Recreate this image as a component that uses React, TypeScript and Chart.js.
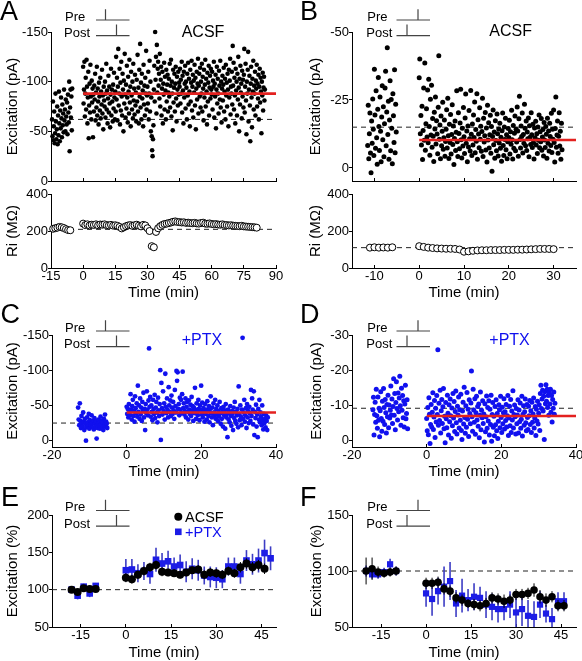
import React, { useEffect, useRef } from 'react';
import { Chart, registerables } from 'chart.js';

Chart.register(...registerables);

const FONT = "'Liberation Sans', Arial, Helvetica, sans-serif";
Chart.defaults.font.family = FONT;
Chart.defaults.color = '#000';

// ---------------- DATA ----------------
// Panel A (ACSF) – excitation amplitude (pA), sweeps every 0.2 min
const A_BASE_START = -14.5;
const A_POST_START = 0;
const A_SWEEP = 0.2;
const A_BASE = [-62,-45,-80,-41,-55,-70,-38,-48,-88,-60,-42,-52,-75,-37,-66,-46,-90,-58,-40,-71,-53,-84,-63,-44,-77,-56,-68,-49,-92,-61,-72,-50,-82,-65,-57,-79,-47,-87,-69,-59,-100,-30,-74,-92,-64,-85,-51,-93];
const A_POST = [
  -115,-78,-92,-120,-65,-88,-104,-72,-122,-95,-58,-84,-110,-43,-76,-98,-69,-117,-85,-62,-101,-79,-93,-44,-87,
  -70,-96,-82,-108,-61,-89,-74,-115,-66,-93,-80,-57,-99,-85,-71,-104,-63,-90,-77,-112,-68,-86,-52,-95,-81,
  -75,-100,-64,-88,-118,-72,-91,-58,-83,-106,-69,-95,-78,-54,-87,-113,-66,-92,-80,-60,-97,-73,-109,-84,-62,
  -90,-70,-125,-82,-104,-61,-95,-133,-76,-88,-113,-57,-99,-71,-120,-85,-66,-108,-92,-50,-101,-78,-128,-87,-64,
  -97,-73,-116,-84,-59,-105,-90,-68,-122,-79,-95,-55,-110,-86,-72,-100,-63,-118,-81,-93,-67,-107,-76,-89,-60,
  -102,-80,-127,-70,-94,-58,-112,-85,-138,-74,-99,-62,-108,-83,-91,-55,-117,-77,-96,-66,-104,-88,-131,-72,-86,
  -95,-78,-110,-62,-88,-121,-70,-100,-50,-84,-45,-31,-25,-42,-56,-92,-116,-80,-150,-102,-125,-68,-137,-89,-113,
  -120,-96,-108,-83,-128,-75,-102,-115,-66,-93,-110,-58,-98,-87,-119,-72,-105,-91,-62,-112,-80,-97,-107,-70,-89,
  -103,-85,-118,-74,-96,-122,-65,-100,-88,-51,-112,-79,-94,-108,-70,-98,-115,-83,-60,-105,-92,-76,-110,-87,-99,
  -95,-113,-78,-102,-88,-120,-69,-106,-91,-58,-110,-84,-98,-116,-73,-100,-94,-62,-108,-86,-119,-77,-103,-90,-55,
  -112,-80,-99,-121,-71,-95,-107,-64,-101,-89,-117,-76,-104,-52,-93,-110,-82,-98,-123,-68,-96,-108,-85,-114,-74,
  -100,-88,-118,-70,-105,-93,-61,-112,-84,-97,-122,-75,-103,-90,-57,-109,-80,-99,-116,-66,-94,-106,-83,-113,-92,
  -87,-110,-72,-101,-95,-120,-64,-98,-85,-107,-53,-92,-115,-78,-103,-88,-68,-111,-96,-82,-121,-74,-100,-59,-93,
  -106,-81,-97,-114,-70,-90,-103,-62,-117,-86,-99,-75,-108,-92,-55,-112,-84,-101,-123,-67,-95,-88,-110,-77,-136,
  -96,-119,-72,-104,-86,-58,-113,-91,-100,-66,-108,-82,-125,-94,-50,-103,-77,-116,-89,-98,-63,-111,-85,-102,-74,
  -107,-133,-69,-95,-118,-81,-47,-100,-88,-112,-130,-60,-92,-106,-76,-40,-98,-115,-84,-54,-103,-90,-121,-72,-96,
  -88,-110,-66,-101,-93,-117,-75,-98,-83,-107,-62,-95,-113,-79,-104,-90,-48,-100,-86,-109,-71,-94,-105,-81,-92,
];
const A_BASELINE_MEAN = -62;
const A_POST_MEAN = -88;
// Panel A input resistance (MΩ), one per minute
const A_RI_BASE_START = -14;
const A_RI_BASE = [212,215,218,222,220,216,210,205,204];
const A_RI_POST = [
  240,232,236,230,234,233,236,231,235,234,
  236,232,230,233,229,231,228,222,214,220,
  226,230,232,228,231,234,229,225,233,230,
  215,200,118,112,195,
  215,226,233,238,240,243,246,250,252,249,
  248,246,247,244,245,243,242,244,241,240,
  243,245,240,239,241,238,236,237,235,234,
  236,233,232,230,231,229,228,227,226,228,
  225,224,223,222,221,220,218,
];
const A_RI_REF = 209;

// Panel B (ACSF) – sweeps every 0.125 min
const B_BASE_START = -11.5;
const B_SWEEP = 0.125;
const B_BASE = [-8.3,-23.1,-3.4,-12.6,-20.2,-5.5,1.8,-17.3,-9.1,-25.4,-14.2,-4.6,-36.3,-19.5,-7.2,-28.4,-11.1,-1.4,-21.6,-33.3,-15.2,-6.4,-26.1,-13.5,-2.3,-18.7,-30.2,-10.4,-22.5,-4.1,-16.3,-29.4,-35.6,-8.2,-20.6,-44.2,-12.3,-24.5,-3.2,-17.6,-32.1,-6.3,-25.2,-14.6,-1.5,-27.3,-19.2,-9.4,-36.1,-5.6,-23.4,-13.2];
const B_POST = [
  -33.2,-40.1,-12.6,-19.3,-8.4,-22.7,-3.1,-13.8,-29.4,-10.2,-38.6,-6.5,-16.3,-21.8,-11.4,-28.7,
  -9.3,-32.6,-15.2,-4.7,-25.3,-12.1,-30.4,-7.6,-18.2,-11.7,-2.4,-20.5,-14.3,-26.1,-8.8,-17.4,
  -12.5,-5.2,-22.3,-41.3,-10.6,-15.8,-3.4,-19.1,-8.2,-13.5,-24.2,-6.9,-11.1,-17.6,-4.3,-9.7,
  -14.2,-21.4,-7.3,-25.6,-11.8,-3.5,-16.1,-9.4,-19.7,-5.1,-12.3,-23.2,-8.6,-15.4,-1.3,-10.8,
  -17.3,-6.4,-13.1,-28.4,-9.6,-4.2,-20.3,-12.7,-7.1,-16.5,-28.9,-10.4,-3.7,-14.6,-8.1,-22.2,
  -11.5,-5.3,-18.4,-27.2,-9.1,-13.6,-2.3,-15.4,-7.7,-21.1,-10.7,-6.2,-28.5,-12.4,-4.6,-16.2,
  -8.4,-19.5,-11.2,-24.3,-5.6,-14.1,-9.8,-27.3,-3.2,-17.7,-12.5,-7.4,-22.1,-10.6,-15.3,-6.1,
  -13.4,-25.6,-4.2,-18.3,-9.5,-11.8,-20.4,-6.6,-14.7,-2.2,-23.1,-10.3,-16.6,-7.3,-12.2,-19.4,
  -5.4,-15.2,1.2,-11.6,-21.3,-8.5,-13.2,-3.6,-17.4,-10.1,-6.3,-19.8,-12.6,-4.4,-14.3,-9.2,
  -16.4,-7.2,-11.3,-2.5,-13.7,-20.2,-8.3,-4.6,-15.1,-10.5,-18.3,-6.7,-12.2,-3.4,-9.6,-14.5,
  -11.2,-17.5,-5.1,-13.3,-8.7,-21.2,-10.4,-3.3,-15.6,-7.2,-12.8,-19.1,-6.3,-14.2,-9.5,-22.4,
  -13.6,-4.3,-18.1,-26.4,-10.5,-7.3,-15.4,-11.6,-20.2,-5.5,-12.3,-9.1,-23.4,-14.6,-8.2,-17.3,
  -6.4,-13.2,-10.7,-18.4,-4.1,-15.5,-11.3,-8.6,-20.3,-12.2,-7.5,-16.1,-9.4,-3.3,-14.7,-11.1,
  -17.2,-8.4,-12.6,-5.3,-15.1,-10.2,-19.5,-7.4,-13.3,-9.6,-18.2,-6.5,-11.4,-14.1,-4.4,-16.7,
  -10.3,-7.5,-15.2,-12.4,-3.6,-18.3,-9.1,-13.6,-6.2,-16.4,-11.6,-8.3,-20.1,-5.7,-14.2,-10.6,
  -21.3,-9.4,-2.2,-14.5,-26.1,-7.6,-12.1,-17.3,-5.4,-11.7,-20.3,-8.1,-13.5,-3.2,-16.4,-6.7,
];
const B_BASELINE_MEAN = -15;
const B_POST_MEAN = -10.3;
const B_RI_BASE_START = -11;
const B_RI_BASE = [110,112,110,111,110,112];
const B_RI_POST = [118,114,110,108,106,105,104,104,103,100,88,90,93,95,96,96,97,97,97,98,98,98,99,99,100,101,102,103,103,103,102];
const B_RI_REF = 110;

// Panel C (+PTX) – sweeps every 0.15 min
const C_BASE_START = -13;
const CD_SWEEP = 0.15;
const C_BASE = [-47,-30,-22,-53,-28,-18,-35,-25,-20,-40,-27,-15,-31,-24,0,-19,-33,-26,-22,-38,-17,-29,-23,-21,-36,-26,-19,-28,-16,-32,-24,-20,-27,-3,-22,-18,-30,-25,-21,-17,-34,-23,-28,-19,-26,-15,-31,-22,-37,-20,-27,-24,-18];
const C_POST = [
  -48,-38,-45,-33,-52,-40,-36,-66,-44,-30,-49,-58,-35,-42,-27,-63,-46,-39,-53,-34,
  -78,-41,-50,-31,-60,-37,-47,-28,-55,-43,-68,-33,-45,-15,-52,-39,-70,-44,-36,-57,
  -131,-48,-62,-34,-50,-41,-29,-58,-45,-38,-65,-32,-47,-55,-40,-26,-61,-43,-35,-52,
  -100,-1,-82,-46,-37,-70,-42,-53,-30,-95,-48,-39,-60,-44,-33,-76,-50,-41,-57,-35,
  -64,-47,-38,-55,-43,-31,-72,-49,-40,-99,-85,-97,-45,-52,-36,-61,-44,-58,-39,-66,
  -98,-46,-53,-37,-42,-60,-33,-48,-55,-41,-30,-57,-44,-38,-51,-35,-62,-43,-49,-28,
  -47,-39,-75,-44,-31,-53,-40,-36,-58,-45,-29,-50,-42,-78,-37,-54,-33,-46,-41,-27,
  -52,-38,-44,-30,-56,-42,-35,-49,-26,-45,-63,-39,-33,-47,-22,-53,-40,-36,-58,-31,
  -45,-37,-50,-28,-42,-34,-55,-39,-24,-46,-31,-41,-20,-48,-36,-43,-17,-52,-33,-38,
  -5,-44,-30,-40,-26,-49,-35,-21,-42,-38,-15,-47,-32,-55,-28,-41,-24,-36,-45,-19,
  -77,-38,-29,-50,-34,-22,-44,-146,-31,-40,-58,-27,-36,-46,-18,-52,-33,-42,-25,-48,
  -39,-28,-72,-35,-60,-44,-23,-70,-8,-41,-32,-51,-20,-37,-5,-45,-30,-58,-26,-40,
  -34,-22,-50,-29,-16,-38,-25,-31,-19,-36,-28,-15,-33,
];
const C_BASELINE_MEAN = -25;
const C_POST_MEAN = -40;

// Panel D (+PTX)
const D_BASE_START = -14.4;
const D_BASE = [-8.8,-12.3,-1.6,-7.4,-10.9,-5.2,-14.6,-7.1,-3.5,-12.4,-5.8,-9.2,-1.1,-8.5,-13.9,-6.3,-2.7,-11.2,-5.5,-14.8,-9.4,-4.6,-11.7,-7.9,-2.2,-10.3,-6.8,-12.9,-3.7,-10.1,-6.4,-8.6,-15.5,-7.3,-11.8,-4.9,-9.7,-17.6,-7.2,-13.4,-3.1,-10.8,-16.7,-9.1,-5.9,-13.5,-8.2,-12.1,-18.3,-9.9,-4.4,-14.9,-8.6,-12.8,-6.5,-11.3,-3.9,-10.4,-15.7,-6.2,-7.7,-11.6,-3.4];
const D_POST = [
  -6.3,-2.8,-9.4,-1.7,-12.2,-7.5,0.8,-4.6,-10.3,-3.9,-8.1,-13.6,-3.2,-6.7,-11.4,-0.9,-9.2,-5.3,-12.8,-7.4,
  -25.8,-4.4,-10.6,-5.7,-14.3,-2.2,-8.5,-11.7,-4.9,-9.6,-14.8,-3.4,-6.9,0.6,-10.8,-6.2,-3.7,-12.9,-7.8,-1.6,
  -10.2,-5.4,-11.8,-7.1,-0.7,-9.3,-4.2,-13.4,-6.4,-11.1,-2.6,-8.3,-14.1,-5.1,-1.9,-9.8,-7.3,-12.4,-3.6,-8.8,
  -5.8,-13.2,-2.9,-0.3,-8.4,-10.9,-4.7,-15.2,-6.6,-2.1,-9.9,-3.8,-13.7,-6.1,-8.9,-1.2,-11.6,-7.7,-4.8,-10.7,
  -19.8,-6.8,-2.7,-14.6,-8.7,-5.2,-11.9,-1.8,-7.9,-12.6,-5.9,-9.7,-4.1,-10.4,-0.8,-7.2,-13.8,-3.1,-8.6,-6.5,
  -11.3,-4.9,-7.6,0.4,-10.5,-2.5,-6.8,-12.7,-3.5,-9.4,-5.6,-11.3,-1.6,-8.9,-4.6,-12.9,0.2,-7.4,-10.8,-3.8,
  -6.9,-1.4,-9.7,-4.5,-11.6,-2.8,-7.7,-0.6,-5.5,-10.2,-8.8,-3.7,-12.6,-6.6,-2.3,-9.5,-4.8,-7.9,-11.9,-3.3,
  -8.2,-5.7,-10.3,-3.9,-7.1,-12.8,-1.5,-6.4,-9.8,-4.2,-11.7,-2.3,-8.4,-5.9,-14.2,-3.6,-7.4,-10.1,-6.8,-1.9,
  -9.1,-4.8,-7.3,-11.6,-2.2,-8.7,-5.4,-10.7,-3.5,-6.1,-12.6,-1.3,-7.5,-9.9,-4.4,-8.2,-11.8,-5.1,-2.8,-10.3,
  -6.6,-3.2,-9.8,-7.1,-11.4,-4.6,-8.5,-2.3,-10.9,-5.2,-7.6,-12.1,-3.6,-6.4,-9.7,-1.5,-8.9,-5.6,-11.2,-4.7,
  -7.8,-10.2,-2.9,-13.4,-15.7,-9.1,-11.8,-14.3,-8.4,-12.6,-0.3,-13.9,-10.5,-15.9,-11.2,-14.6,-9.4,-12.8,-7.2,-13.7,
  -10.4,-14.6,-8.1,-12.8,-5.3,-11.7,-9.2,-13.8,-7.5,-10.6,
];
const D_BASELINE_MEAN = -9.2;
const D_POST_MEAN = -7;

// Panel E – normalised excitation (%), mean ± s.e.m.
const E_ACSF_T = [-18,-16,-14,-12,-10,0,2,4,6,8,10,12,14,16,18,20,22,24,26,28,30,32,34,36,38,40,42,44,46];
const E_ACSF_Y = [100,97,102,101,101,116,114,120,125,130,133,124,123,122,120,123,126,127,120,123,122,120,125,122,130,135,130,133,128];
const E_ACSF_ERR = [4,4,4,4,4,6,6,6,6,6,6,6,5,5,5,5,5,6,6,6,6,6,6,6,7,7,7,7,7];
const E_PTX_T = [-18,-16,-14,-12,-10,0,2,4,6,8,10,12,14,16,18,20,22,24,26,28,30,32,34,36,38,40,42,44,46,48];
const E_PTX_Y = [100,92,104,95,105,126,127,122,125,121,140,135,138,131,133,124,128,126,119,117,116,114,131,131,121,139,134,139,149,142];
const E_PTX_ERR = [4,5,4,5,4,15,14,12,12,13,16,14,14,12,14,14,14,14,12,14,14,12,12,12,13,14,14,16,18,16];

// Panel F
const F_ACSF_T = [-20,-18,-16,-14,-12,-10,0,2,4,6,8,10,12,14,16,18,20,22,24,26,28,30,32,34,36,38,40,42,44,46];
const F_ACSF_Y = [100,102,99,98,99,100,89,89,90,84,82,76,74,71,70,69,71,76,75,73,74,79,79,80,83,77,74,77,69,69];
const F_ACSF_ERR = [12,10,5,4,4,4,5,5,5,5,5,5,5,4,5,5,5,5,5,6,5,5,5,5,6,6,6,5,5,5];
const F_PTX_T = [-20,-18,-16,-14,-12,-10,0,2,4,6,8,10,12,14,16,18,20,22,24,26,28,30,32,34,36,38,40,42,44,46];
const F_PTX_Y = [100,97,97,99,106,100,80,75,82,86,91,71,78,74,77,76,70,68,66,66,70,63,66,60,59,70,62,57,73,73];
const F_PTX_ERR = [5,4,4,4,5,4,12,15,12,18,17,12,15,10,12,10,12,12,12,10,12,15,15,14,14,12,8,10,8,8];
const NORM_REF = 100;

// Tick labels
const A_X_TICKS = [-15,0,15,30,45,60,75,90];
const A_Y_TICKS = [-150,-100,-50,0];
const RI_TICKS = [0,200,400];
const B_X_TICKS = [-10,0,10,20,30];
const B_Y_TICKS = [-50,-25,0];
const CD_X_TICKS = [-20,0,20,40];
const C_Y_TICKS = [-150,-100,-50,0];
const D_Y_TICKS = [-30,-20,-10,0];
const EF_X_TICKS = [-15,0,15,30,45];
const E_Y_TICKS = [50,100,150,200];
const F_Y_TICKS = [50,100,150];

// ---------------- HELPERS ----------------
const sweepTimes = (start: number, step: number, n: number) =>
  Array.from({ length: n }, (_, i) => start + i * step);
const pts = (xs: number[], ys: number[]) => ys.map((y, i) => ({ x: xs[i], y }));
const sweepPts = (start: number, step: number, ys: number[]) => pts(sweepTimes(start, step, ys.length), ys);

const BLACK = '#000';
const BLUE = '#1010ee';
const BLUE_SQ = '#1c1ce6';
const BLUE_ERR = '#3c3cc4';
const RED = '#e3211f';

function scatterDs(data: any[], color: string, r: number) {
  return {
    data, showLine: false, pointRadius: r, pointBackgroundColor: color, pointBorderColor: color,
    pointBorderWidth: 0, clip: false, order: 2,
  };
}
function openDs(data: any[]) {
  return {
    data, showLine: false, pointRadius: 3.5, pointBackgroundColor: '#fff', pointBorderColor: '#000',
    pointBorderWidth: 1, clip: false, order: 2,
  };
}
function hLine(x0: number, x1: number, y: number, color: string, width: number, dash: number[], order: number) {
  return {
    data: [{ x: x0, y }, { x: x1, y }], showLine: true, borderColor: color, borderWidth: width,
    borderDash: dash, pointRadius: 0, order,
  };
}
function errDs(xs: number[], ys: number[], errs: number[], style: string, r: number, color: string, errColor: string, errWidth: number, order: number) {
  return {
    data: pts(xs, ys), errors: errs, errorColor: errColor, errorWidth: errWidth,
    showLine: false, pointStyle: style, pointRadius: r, pointBackgroundColor: color, pointBorderColor: color,
    pointBorderWidth: 0, clip: false, order,
  };
}

const errorBarPlugin = {
  id: 'errorBars',
  beforeDatasetDraw(chart: any, args: any) {
    const ds = chart.data.datasets[args.index];
    if (!ds.errors) return;
    const ctx = chart.ctx;
    const ys = chart.scales.y;
    const area = chart.chartArea;
    ctx.save();
    ctx.beginPath();
    ctx.rect(area.left, area.top, area.right - area.left, area.bottom - area.top);
    ctx.clip();
    ctx.strokeStyle = ds.errorColor;
    ctx.lineWidth = ds.errorWidth;
    args.meta.data.forEach((el: any, i: number) => {
      const v = ds.data[i].y;
      const e = ds.errors[i];
      ctx.beginPath();
      ctx.moveTo(el.x, ys.getPixelForValue(v - e));
      ctx.lineTo(el.x, ys.getPixelForValue(v + e));
      ctx.stroke();
    });
    ctx.restore();
  },
};

type AxisSpec = { min: number; max: number; ticks: number[]; labels: boolean; title?: string; titlePad?: number; reverse?: boolean };
type Spec = { box: number[]; plot: number[]; x: AxisSpec; y: AxisSpec; datasets: any[] };

function axisOptions(a: AxisSpec, dir: 'x' | 'y', size: number) {
  return {
    type: 'linear',
    position: dir === 'x' ? 'bottom' : 'left',
    min: a.min,
    max: a.max,
    reverse: !!a.reverse,
    afterBuildTicks: (s: any) => { s.ticks = a.ticks.map((v) => ({ value: v })); },
    afterFit: (s: any) => {
      if (dir === 'x') { s.height = size; s.paddingLeft = 0; s.paddingRight = 0; }
      else { s.width = size; s.paddingTop = 0; s.paddingBottom = 0; }
    },
    grid: { display: true, drawOnChartArea: false, drawTicks: true, tickLength: dir === 'x' ? -3 : 3, color: '#000', lineWidth: 1 },
    border: { display: true, color: '#000', width: 1 },
    ticks: {
      display: a.labels, autoSkip: false, maxRotation: 0, minRotation: 0,
      padding: dir === 'x' ? 4 : 0, font: { size: 13, family: FONT }, color: '#000',
      callback: (v: any) => String(v),
    },
    title: a.title
      ? { display: true, text: a.title, color: '#000', font: { size: 15, family: FONT }, padding: { top: a.titlePad ?? 0, bottom: a.titlePad ?? 0 } }
      : { display: false },
  };
}

function PanelChart({ spec }: { spec: Spec }) {
  const ref = useRef<HTMLCanvasElement>(null);
  const [x0, y0, x1, y1] = spec.box;
  const [l, t, r, b] = spec.plot;
  useEffect(() => {
    const chart = new Chart(ref.current as HTMLCanvasElement, {
      type: 'scatter',
      data: { datasets: spec.datasets },
      options: {
        animation: false,
        responsive: false,
        events: [],
        layout: { padding: { left: 0, top: t - y0, right: x1 - r, bottom: 0 } },
        plugins: { legend: { display: false }, tooltip: { enabled: false } },
        scales: {
          x: axisOptions(spec.x, 'x', y1 - b) as any,
          y: axisOptions(spec.y, 'y', l - x0) as any,
        },
      } as any,
      plugins: [errorBarPlugin as any],
    });
    return () => chart.destroy();
  }, []);
  return (
    <canvas
      ref={ref}
      width={x1 - x0}
      height={y1 - y0}
      style={{ position: 'absolute', left: x0, top: y0, width: x1 - x0, height: y1 - y0 }}
    />
  );
}

// ---------------- PANELS ----------------
const SPECS: Spec[] = [
  // A top
  {
    box: [0, 22, 290, 190], plot: [51, 32, 276, 181],
    x: { min: -15, max: 90, ticks: A_X_TICKS, labels: false },
    y: { min: -150, max: 0, ticks: A_Y_TICKS, labels: true, reverse: true, title: 'Excitation (pA)', titlePad: 3.5 },
    datasets: [
      hLine(-15, 90, A_BASELINE_MEAN, '#222', 1, [5, 4], 3),
      scatterDs(sweepPts(A_BASE_START, A_SWEEP, A_BASE), BLACK, 2.3),
      scatterDs(sweepPts(A_POST_START, A_SWEEP, A_POST), BLACK, 2.3),
      hLine(0, 90, A_POST_MEAN, RED, 2.6, [], 0),
    ],
  },
  // A bottom (Ri)
  {
    box: [0, 186, 290, 303], plot: [51, 194, 276, 268],
    x: { min: -15, max: 90, ticks: A_X_TICKS, labels: true, title: 'Time (min)', titlePad: 1 },
    y: { min: 0, max: 400, ticks: RI_TICKS, labels: true, title: 'Ri (MΩ)', titlePad: 3.5 },
    datasets: [
      hLine(-15, 90, A_RI_REF, '#222', 1, [5, 4], 3),
      openDs(sweepPts(A_RI_BASE_START, 1, A_RI_BASE)),
      openDs(sweepPts(0, 1, A_RI_POST)),
    ],
  },
  // B top
  {
    box: [300, 22, 590, 190], plot: [352, 32, 576, 181],
    x: { min: -15, max: 35, ticks: B_X_TICKS, labels: false },
    y: { min: -50, max: 4.8, ticks: B_Y_TICKS, labels: true, reverse: true, title: 'Excitation (pA)', titlePad: 7 },
    datasets: [
      hLine(-15, 35, B_BASELINE_MEAN, '#222', 1, [5, 4], 3),
      scatterDs(sweepPts(B_BASE_START, B_SWEEP, B_BASE), BLACK, 2.5),
      scatterDs(sweepPts(0, B_SWEEP, B_POST), BLACK, 2.5),
      hLine(0, 35, B_POST_MEAN, RED, 2.6, [], 0),
    ],
  },
  // B bottom (Ri)
  {
    box: [300, 186, 590, 303], plot: [352, 194, 576, 268],
    x: { min: -15, max: 35, ticks: B_X_TICKS, labels: true, title: 'Time (min)', titlePad: 1 },
    y: { min: 0, max: 400, ticks: RI_TICKS, labels: true, title: 'Ri (MΩ)', titlePad: 7 },
    datasets: [
      hLine(-15, 35, B_RI_REF, '#222', 1, [5, 4], 3),
      openDs(sweepPts(B_RI_BASE_START, 1, B_RI_BASE)),
      openDs(sweepPts(0, 1, B_RI_POST)),
    ],
  },
  // C
  {
    box: [0, 325, 290, 482], plot: [52, 335, 276, 447],
    x: { min: -20, max: 40, ticks: CD_X_TICKS, labels: true, title: 'Time (min)', titlePad: 1.5 },
    y: { min: -150, max: 9, ticks: C_Y_TICKS, labels: true, reverse: true, title: 'Excitation (pA)', titlePad: 3.5 },
    datasets: [
      hLine(-20, 40, C_BASELINE_MEAN, '#222', 1, [5, 4], 3),
      scatterDs(sweepPts(C_BASE_START, CD_SWEEP, C_BASE), BLUE, 2.4),
      scatterDs(sweepPts(0, CD_SWEEP, C_POST), BLUE, 2.4),
      hLine(0, 40, C_POST_MEAN, RED, 2.6, [], 0),
    ],
  },
  // D
  {
    box: [300, 325, 590, 482], plot: [352, 335, 576, 447],
    x: { min: -20, max: 40, ticks: CD_X_TICKS, labels: true, title: 'Time (min)', titlePad: 1.5 },
    y: { min: -30, max: 1.8, ticks: D_Y_TICKS, labels: true, reverse: true, title: 'Excitation (pA)', titlePad: 7.5 },
    datasets: [
      hLine(-20, 40, D_BASELINE_MEAN, '#222', 1, [5, 4], 3),
      scatterDs(sweepPts(D_BASE_START, CD_SWEEP, D_BASE), BLUE, 2.5),
      scatterDs(sweepPts(0, CD_SWEEP, D_POST), BLUE, 2.5),
      hLine(0, 40, D_POST_MEAN, RED, 2.6, [], 0),
    ],
  },
  // E
  {
    box: [0, 505, 290, 663], plot: [52, 515, 276, 627],
    x: { min: -24.5, max: 49.8, ticks: EF_X_TICKS, labels: true, title: 'Time (min)', titlePad: 1.5 },
    y: { min: 50, max: 200, ticks: E_Y_TICKS, labels: true, title: 'Excitation (%)', titlePad: 4 },
    datasets: [
      hLine(-24.5, 49.8, NORM_REF, '#222', 1, [5, 4], 5),
      errDs(E_PTX_T, E_PTX_Y, E_PTX_ERR, 'rect', 4.7, BLUE_SQ, BLUE_ERR, 1.6, 4),
      errDs(E_ACSF_T, E_ACSF_Y, E_ACSF_ERR, 'circle', 4, BLACK, '#000', 1, 3),
    ],
  },
  // F
  {
    box: [300, 505, 590, 663], plot: [352, 515, 576, 627],
    x: { min: -24.7, max: 50, ticks: EF_X_TICKS, labels: true, title: 'Time (min)', titlePad: 1.5 },
    y: { min: 50, max: 150, ticks: F_Y_TICKS, labels: true, title: 'Excitation (%)', titlePad: 7.7 },
    datasets: [
      hLine(-24.7, 50, NORM_REF, '#222', 1, [5, 4], 5),
      errDs(F_PTX_T, F_PTX_Y, F_PTX_ERR, 'rect', 4.4, BLUE_SQ, BLUE_ERR, 1.6, 4),
      errDs(F_ACSF_T, F_ACSF_Y, F_ACSF_ERR, 'circle', 3.8, BLACK, '#000', 1, 3),
    ],
  },
];

// ---------------- ANNOTATIONS ----------------
function StimIcon({ left, textX, dy, prePost }: { left: number; textX: number; dy: number; prePost: boolean }) {
  const x0 = left;
  const x1 = left + 33.5;
  const preTick = prePost ? left + 9.5 : left + 21.5;
  const postTick = prePost ? left + 20.5 : left + 10.5;
  return (
    <g>
      <text x={textX} y={20.7 + dy} fontSize={13}>Pre</text>
      <text x={textX - 1} y={37.3 + dy} fontSize={13}>Post</text>
      <path
        d={`M${x0},${20 + dy}H${x1}M${preTick},${9.3 + dy}V${20 + dy}M${x0},${35.7 + dy}H${x1}M${postTick},${24.5 + dy}V${35.7 + dy}`}
        stroke="#444" strokeWidth={1.2} fill="none"
      />
    </g>
  );
}

function Overlay() {
  return (
    <svg
      width={582}
      height={661}
      style={{ position: 'absolute', left: 0, top: 0, pointerEvents: 'none' }}
      fontFamily={FONT}
    >
      <g fontSize={27} fill="#000">
        <text x={0} y={20}>A</text>
        <text x={300} y={20}>B</text>
        <text x={0.5} y={323}>C</text>
        <text x={300} y={323}>D</text>
        <text x={1} y={506}>E</text>
        <text x={300} y={506}>F</text>
      </g>
      <StimIcon left={96} textX={65} dy={0} prePost={true} />
      <StimIcon left={396.5} textX={367.3} dy={0} prePost={false} />
      <StimIcon left={96} textX={65} dy={311} prePost={true} />
      <StimIcon left={396.5} textX={367.3} dy={311} prePost={false} />
      <StimIcon left={96} textX={65} dy={490.5} prePost={true} />
      <StimIcon left={396.5} textX={367.3} dy={490.5} prePost={false} />
      <text x={181.7} y={36.5} fontSize={16}>ACSF</text>
      <text x={489.3} y={36} fontSize={16}>ACSF</text>
      <text x={181.7} y={345} fontSize={16} fill={BLUE}>+PTX</text>
      <text x={489.3} y={345} fontSize={16} fill={BLUE}>+PTX</text>
      <circle cx={178.3} cy={516.7} r={4} fill="#000" />
      <text x={185} y={521.7} fontSize={14.5}>ACSF</text>
      <rect x={175} y={528.5} width={6.6} height={6.6} fill={BLUE_SQ} />
      <text x={185} y={537} fontSize={14.5} fill={BLUE}>+PTX</text>
    </svg>
  );
}

export default function App() {
  return (
    <div style={{ position: 'absolute', left: 0, top: 0, width: 582, height: 661, overflow: 'hidden', background: '#fff' }}>
      {SPECS.map((s, i) => <PanelChart key={i} spec={s} />)}
      <Overlay />
    </div>
  );
}
